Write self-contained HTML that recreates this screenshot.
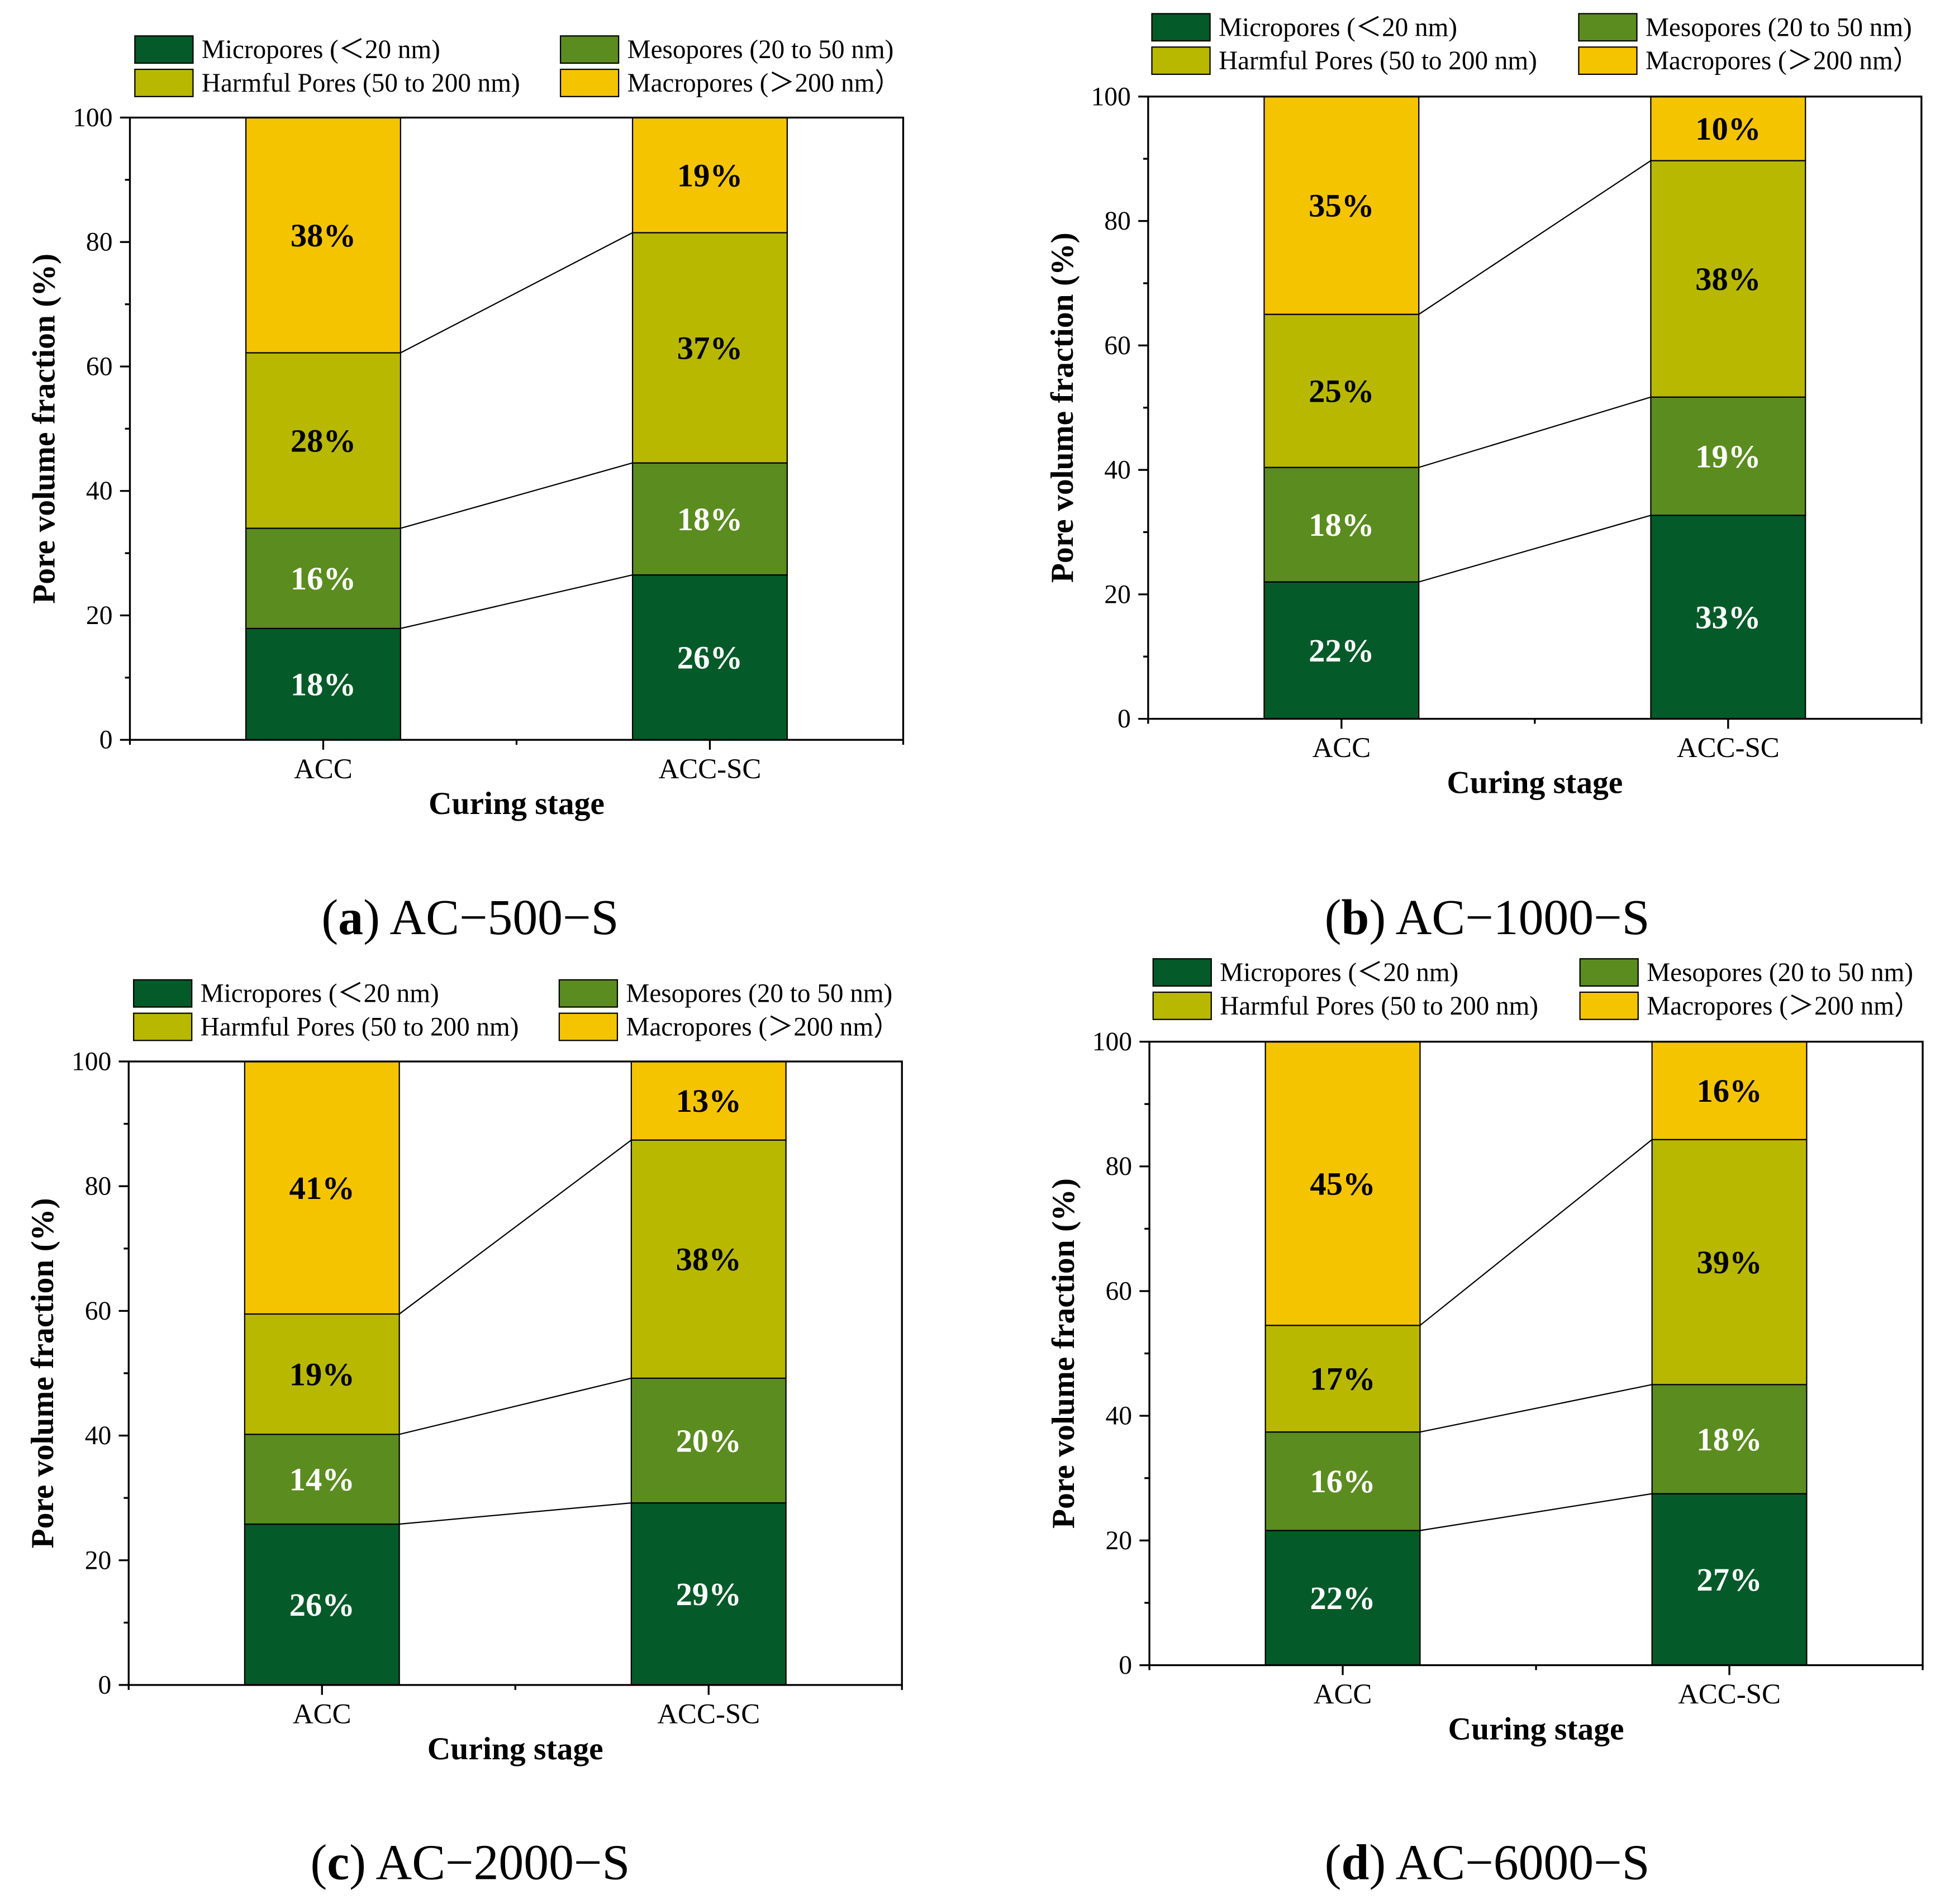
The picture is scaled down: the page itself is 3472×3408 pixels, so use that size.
<!DOCTYPE html>
<html><head><meta charset="utf-8"><style>
html,body{margin:0;padding:0;background:#fff;}
svg{display:block;}
text{font-family:"Liberation Serif",serif;}
</style></head><body>
<svg id="chart" width="3472" height="3408" viewBox="0 0 1568 1539" xmlns="http://www.w3.org/2000/svg"></svg>
<script>
const categories = ["ACC", "ACC-SC"];
const seriesNames = ["Micropores (\uFF1C20 nm)", "Mesopores (20 to 50 nm)", "Harmful Pores (50 to 200 nm)", "Macropores (\uFF1E200 nm\uFF09"];
const seriesColors = ["#045a28", "#5b8c1f", "#b8b800", "#f5c400"];
const labelColors = ["#fff", "#fff", "#000", "#000"];
const yTicks = [0, 20, 40, 60, 80, 100];
const aACC = [17.9, 16.1, 28.2, 37.8];
const aSC = [26.5, 18.0, 37.0, 18.5];
const aLblACC = ["18%", "16%", "28%", "38%"];
const aLblSC = ["26%", "18%", "37%", "19%"];
const bACC = [22.0, 18.4, 24.6, 35.0];
const bSC = [32.7, 19.0, 38.0, 10.3];
const bLblACC = ["22%", "18%", "25%", "35%"];
const bLblSC = ["33%", "19%", "38%", "10%"];
const cACC = [25.8, 14.4, 19.3, 40.5];
const cSC = [29.2, 20.0, 38.2, 12.6];
const cLblACC = ["26%", "14%", "19%", "41%"];
const cLblSC = ["29%", "20%", "38%", "13%"];
const dACC = [21.6, 15.8, 17.1, 45.5];
const dSC = [27.5, 17.5, 39.3, 15.7];
const dLblACC = ["22%", "16%", "17%", "45%"];
const dLblSC = ["27%", "18%", "39%", "16%"];
const captions = [["a", "AC\u2212500\u2212S"], ["b", "AC\u22121000\u2212S"], ["c", "AC\u22122000\u2212S"], ["d", "AC\u22126000\u2212S"]];

const NS = "http://www.w3.org/2000/svg";
const svg = document.getElementById("chart");
function mk(tag, attrs, parent, txt) {
  const e = document.createElementNS(NS, tag);
  for (const k in attrs) e.setAttribute(k, attrs[k]);
  if (txt !== undefined) e.textContent = txt;
  parent.appendChild(e);
  return e;
}
const layouts = [
  {x0:105, x1:730, yTop:95, yBot:598, legY:29, legX:[109,453], cap:[380,741], ytx:35},
  {x0:928, x1:1553, yTop:78, yBot:581, legY:11, legX:[931,1276], cap:[1202,741], ytx:858},
  {x0:104, x1:729, yTop:858, yBot:1362, legY:792, legX:[108,452], cap:[380,1505], ytx:34},
  {x0:929, x1:1554, yTop:842, yBot:1346, legY:775, legX:[932,1277], cap:[1202,1505], ytx:859}
];
const panelData = [[aACC,aSC,aLblACC,aLblSC],[bACC,bSC,bLblACC,bLblSC],[cACC,cSC,cLblACC,cLblSC],[dACC,dSC,dLblACC,dLblSC]];

layouts.forEach((L, pi) => {
  const g = mk("g", {}, svg);
  
  
  const w = L.x1 - L.x0;
  const y = v => L.yBot - (L.yBot - L.yTop) * v / 100;
  const xc = i => L.x0 + w * (0.25 + 0.5 * i);
  const bw = w * 0.2;
  seriesNames.forEach((nm, si) => {
    const lx = L.legX[si % 2], ly = L.legY + Math.floor(si / 2) * 27;
    const lg = mk("g", {}, g);
    
    
    mk("rect", {x:lx, y:ly, width:47, height:22, fill:seriesColors[si], stroke:"#000", "stroke-width":1}, lg);
    mk("text", {x:lx+54, y:ly+18, "font-size":21.3, fill:"#000"}, lg, nm);
  });
  const d = panelData[pi];
  const tops = [];
  [0,1].forEach(ci => {
    const vals = d[ci], lbls = d[ci+2];
    let cum = 0; const t = [];
    vals.forEach((v, si) => {
      const y0 = y(cum), y1 = y(cum + v);
      const r = mk("rect", {x:xc(ci)-bw/2, y:y1, width:bw, height:y0-y1, fill:seriesColors[si], stroke:"#000", "stroke-width":1}, g);
      
      
      const tx = mk("text", {x:xc(ci), y:(y0+y1)/2+9, "font-size":26.5, "font-weight":"bold", fill:labelColors[si], "text-anchor":"middle"}, g, lbls[si]);
      
      
      cum += v; t.push(cum);
    });
    tops.push(t);
  });
  for (let s = 0; s < 3; s++) {
    const ln = mk("line", {x1:xc(0)+bw/2, y1:y(tops[0][s]), x2:xc(1)-bw/2, y2:y(tops[1][s]), stroke:"#000", "stroke-width":1}, g);
    
    
  }
  const fr = mk("rect", {x:L.x0, y:L.yTop, width:w, height:L.yBot-L.yTop, fill:"none", stroke:"#000", "stroke-width":1.5}, g);
  
  
  for (let v = 0; v <= 100; v += 10) {
    mk("line", {x1:L.x0, x2:L.x0 - (v % 20 === 0 ? 8 : 4), y1:y(v), y2:y(v), stroke:"#000", "stroke-width":1.5}, g);
  }
  yTicks.forEach(v => {
    const t = mk("text", {x:L.x0-14, y:y(v)+7, "font-size":21.5, "text-anchor":"end"}, g, String(v));
    
    
  });
  for (let k = 0; k <= 4; k++) {
    const xx = L.x0 + w * k / 4;
    mk("line", {x1:xx, x2:xx, y1:L.yBot, y2:L.yBot + (k % 2 ? 8 : 4), stroke:"#000", "stroke-width":1.5}, g);
  }
  categories.forEach((c, ci) => {
    const t = mk("text", {x:xc(ci), y:L.yBot+31, "font-size":23, "text-anchor":"middle"}, g, c);
    
    
  });
  const xt = mk("text", {x:(L.x0+L.x1)/2, y:L.yBot+60, "font-size":26, "font-weight":"bold", "text-anchor":"middle"}, g, "Curing stage");
  
  
  const cy = (L.yTop+L.yBot)/2;
  const yt = mk("text", {x:L.ytx, y:cy, "font-size":26, "font-weight":"bold", "text-anchor":"middle", transform:"rotate(-90 "+(L.ytx)+" "+cy+")", dy:9}, g, "Pore volume fraction (%)");
  
  
  const cap = mk("text", {x:L.cap[0], y:L.cap[1]+14, "font-size":40.5, "text-anchor":"middle"}, g);
  
  
  mk("tspan", {}, cap, "(");
  mk("tspan", {"font-weight":"bold"}, cap, captions[pi][0]);
  mk("tspan", {}, cap, ") " + captions[pi][1]);
});
</script>
</body></html>
